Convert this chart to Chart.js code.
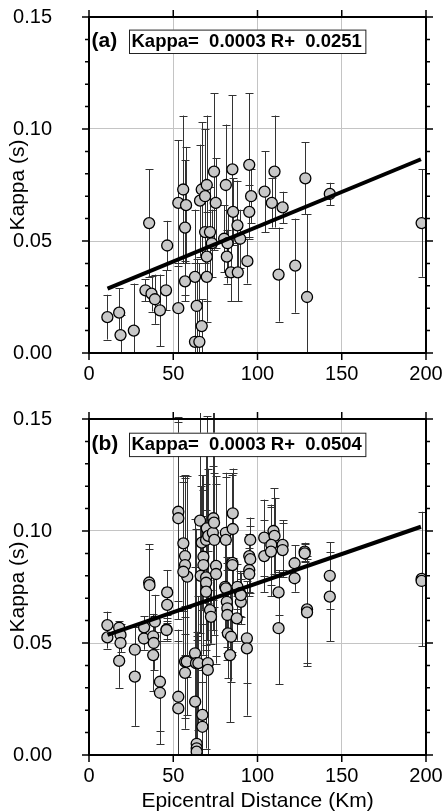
<!DOCTYPE html>
<html>
<head>
<meta charset="utf-8">
<script src="https://cdn.jsdelivr.net/npm/chart.js@4.4.0/dist/chart.umd.min.js"></script>
<style>
  html, body { margin: 0; padding: 0; background: #fff; }
  canvas { position: absolute; left: 0; }
  #chartA { top: 0; }
  #chartB { top: 400px; }
</style>
</head>
<body>
<canvas id="chartA" width="443" height="400"></canvas>
<canvas id="chartB" width="443" height="412"></canvas>
<script>
// Panel (a): kappa vs epicentral distance
const distA = [10.9, 17.9, 18.7, 26.6, 35.7, 33.5, 37.1, 39.1, 42.1, 46.4, 45.7, 53.0, 53.0, 55.9, 57.6, 57.0, 57.0, 62.9, 63.9, 66.9,
  62.9, 65.5, 65.9, 66.9, 69.9, 68.9, 74.2, 75.2, 68.9, 71.8, 69.9, 72.9, 69.9, 81.2, 85.1, 95.1, 96.2, 85.5, 95.1, 80.2,
  82.2, 81.8, 84.2, 88.3, 88.1, 89.7, 94.0, 104.2, 110.1, 108.5, 114.9, 112.5, 122.4, 129.4, 128.4, 142.9, 197.4];
const kappaA = [0.016, 0.018, 0.008, 0.010, 0.058, 0.028, 0.0265, 0.024, 0.019, 0.048, 0.028, 0.020, 0.067, 0.073, 0.066, 0.056, 0.032, 0.034, 0.021, 0.012,
  0.005, 0.005, 0.068, 0.073, 0.075, 0.070, 0.081, 0.067, 0.054, 0.054, 0.043, 0.049, 0.034, 0.075, 0.082, 0.084, 0.070, 0.063, 0.063, 0.051,
  0.049, 0.043, 0.036, 0.036, 0.057, 0.051, 0.041, 0.072, 0.081, 0.067, 0.065, 0.035, 0.039, 0.025, 0.078, 0.071, 0.058];
const errA = [0.010, 0.011, 0.009, 0.021, 0.024, 0.005, 0.008, 0.011, 0.016, 0.011, 0.009, 0.020, 0.028, 0.033, 0.026, 0.030, 0.009, 0.030, 0.021, 0.012,
  0.035, 0.035, 0.025, 0.030, 0.031, 0.030, 0.035, 0.020, 0.020, 0.020, 0.020, 0.015, 0.020, 0.027, 0.033, 0.032, 0.012, 0.015, 0.012, 0.015,
  0.015, 0.012, 0.013, 0.013, 0.020, 0.013, 0.010, 0.018, 0.025, 0.011, 0.007, 0.021, 0.021, 0.037, 0.016, 0.005, 0.024];
const fitXA = [11, 197];
const fitYA = [0.0287, 0.0865];

// Panel (b)
const distB = [10.9, 10.9, 17.9, 18.7, 17.9, 18.7, 27.2, 27.2, 32.7, 32.6, 35.7, 35.9, 38.1, 38.4, 38.1, 39.1, 42.1, 42.1, 46.0, 46.0,
  46.4, 46.4, 53.0, 53.0, 53.0, 53.0, 56.0, 57.0, 57.0, 58.3, 56.0, 57.0, 58.0, 57.0, 62.9, 63.5, 63.0, 63.9, 63.9, 63.9,
  64.9, 65.9, 66.9, 66.3, 67.9, 67.9, 67.3, 67.3, 69.9, 69.5, 69.5, 69.5, 69.5, 70.5, 70.5, 70.8, 71.8, 72.4, 73.5, 73.8,
  74.2, 74.4, 75.4, 75.4, 81.2, 81.2, 80.8, 81.2, 81.8, 82.1, 82.1, 82.4, 84.3, 83.7, 85.3, 85.3, 85.1, 85.1, 87.7, 88.1,
  89.7, 90.1, 90.1, 93.7, 93.7, 95.7, 95.1, 95.7, 95.1, 95.1, 104.0, 104.0, 109.5, 110.1, 108.2, 108.0, 114.9, 114.9, 112.5, 112.5,
  122.0, 122.0, 128.0, 128.0, 129.4, 129.4, 142.9, 142.9, 197.4, 197.4];
const kappaB = [0.058, 0.0525, 0.0568, 0.0536, 0.042, 0.050, 0.047, 0.035, 0.057, 0.052, 0.077, 0.0758, 0.053, 0.050, 0.0446, 0.0595, 0.0327, 0.0278, 0.056, 0.0558,
  0.0726, 0.067, 0.1086, 0.1057, 0.026, 0.0208, 0.0945, 0.0888, 0.0848, 0.0796, 0.0818, 0.0417, 0.0417, 0.0367, 0.0454, 0.041, 0.0238, 0.005, 0.003, 0.0015,
  0.041, 0.1046, 0.0948, 0.080, 0.0885, 0.0848, 0.0179, 0.0126, 0.1012, 0.096, 0.0793, 0.0769, 0.0729, 0.041, 0.038, 0.0978, 0.0647, 0.0617, 0.0992, 0.1057,
  0.1037, 0.096, 0.0844, 0.0808, 0.0992, 0.096, 0.0751, 0.0744, 0.0684, 0.0655, 0.0625, 0.0543, 0.0528, 0.0446, 0.1079, 0.1009, 0.0858, 0.0848, 0.061, 0.0751,
  0.0722, 0.0684, 0.0714, 0.0521, 0.0476, 0.096, 0.0888, 0.0874, 0.0826, 0.0808, 0.097, 0.0888, 0.100, 0.0978, 0.0938, 0.0908, 0.0938, 0.0915, 0.0726, 0.0566,
  0.0856, 0.0789, 0.0908, 0.090, 0.065, 0.0637, 0.080, 0.0707, 0.0786, 0.0777];
const errB = [0.006, 0.005, 0.003, 0.005, 0.012, 0.004, 0.010, 0.022, 0.005, 0.005, 0.017, 0.016, 0.010, 0.012, 0.016, 0.012, 0.022, 0.023, 0.005, 0.004,
  0.010, 0.008, 0.040, 0.045, 0.030, 0.030, 0.030, 0.035, 0.040, 0.045, 0.040, 0.025, 0.024, 0.025, 0.060, 0.060, 0.060, 0.050, 0.050, 0.050,
  0.030, 0.050, 0.030, 0.040, 0.030, 0.040, 0.020, 0.020, 0.050, 0.025, 0.030, 0.030, 0.070, 0.050, 0.040, 0.030, 0.015, 0.012, 0.030, 0.050,
  0.050, 0.030, 0.040, 0.040, 0.025, 0.030, 0.020, 0.020, 0.020, 0.020, 0.020, 0.020, 0.020, 0.030, 0.020, 0.025, 0.040, 0.040, 0.010, 0.010,
  0.010, 0.010, 0.010, 0.020, 0.030, 0.010, 0.010, 0.015, 0.010, 0.010, 0.017, 0.016, 0.019, 0.017, 0.018, 0.020, 0.011, 0.012, 0.010, 0.025,
  0.008, 0.006, 0.004, 0.004, 0.024, 0.024, 0.015, 0.020, 0.030, 0.001];
const fitXB = [11, 197];
const fitYB = [0.0536, 0.1019];

// Axes
const xTicks = [0, 50, 100, 150, 200];
const yTicks = [0, 0.05, 0.10, 0.15];
const yMinorTicks = [0.01, 0.02, 0.03, 0.04, 0.06, 0.07, 0.08, 0.09, 0.11, 0.12, 0.13, 0.14];

const FONT = '"Liberation Sans", Arial, sans-serif';
Chart.defaults.font.family = FONT;
Chart.defaults.color = '#000';

// error bars, drawn under the circles
const errorBars = {
  id: 'errorBars',
  beforeDatasetsDraw(chart) {
    const { ctx, chartArea: a, scales: { x, y } } = chart;
    const ds = chart.data.datasets[1];
    ctx.save();
    ctx.beginPath();
    ctx.rect(a.left, a.top - 6, a.width, a.height + 6);
    ctx.clip();
    ctx.strokeStyle = '#333';
    ctx.lineWidth = 1;
    ctx.beginPath();
    ds.data.forEach((p, i) => {
      const e = ds.err[i];
      const px = Math.round(x.getPixelForValue(p.x)) + 0.5;
      const y1 = y.getPixelForValue(p.y + e);
      const y2 = y.getPixelForValue(Math.max(0, p.y - e));
      ctx.moveTo(px, y1); ctx.lineTo(px, y2);
      ctx.moveTo(px - 4, Math.round(y1) + 0.5); ctx.lineTo(px + 4, Math.round(y1) + 0.5);
      if (p.y - e > 0) { ctx.moveTo(px - 4, Math.round(y2) + 0.5); ctx.lineTo(px + 4, Math.round(y2) + 0.5); }
    });
    ctx.stroke();
    ctx.restore();
  }
};

// frame, outward ticks on all sides, panel label + equation box
const frameTicks = {
  id: 'frameTicks',
  afterDraw(chart) {
    const { ctx, chartArea: a, scales: { x, y } } = chart;
    const opts = chart.options.plugins.frameTicks;
    ctx.save();
    ctx.strokeStyle = '#000';
    ctx.lineWidth = 1.5;
    ctx.beginPath();
    xTicks.forEach(v => {
      const px = x.getPixelForValue(v);
      ctx.moveTo(px, a.bottom); ctx.lineTo(px, a.bottom + 7);
      ctx.moveTo(px, a.top); ctx.lineTo(px, a.top - 7);
    });
    yTicks.forEach(v => {
      const py = y.getPixelForValue(v);
      ctx.moveTo(a.left, py); ctx.lineTo(a.left - 7, py);
      ctx.moveTo(a.right, py); ctx.lineTo(a.right + 7, py);
    });
    yMinorTicks.forEach(v => {
      const py = y.getPixelForValue(v);
      ctx.moveTo(a.left, py); ctx.lineTo(a.left - 4, py);
      ctx.moveTo(a.right, py); ctx.lineTo(a.right + 4, py);
    });
    ctx.stroke();
    ctx.lineWidth = 2;
    ctx.strokeRect(a.left, a.top, a.width, a.height);

    // label and equation
    ctx.fillStyle = '#000';
    ctx.textBaseline = 'middle';
    ctx.font = 'bold 21px ' + FONT;
    const cy = a.top + opts.boxTop + 11.7;
    ctx.fillText(opts.tag, a.left + 2.5, cy);
    ctx.font = 'bold 18.5px ' + FONT;
    const w = ctx.measureText(opts.text).width;
    const bx = a.left + 40;
    ctx.fillStyle = '#fff';
    ctx.fillRect(bx, a.top + opts.boxTop, w + 6, 23.4);
    ctx.lineWidth = 1;
    ctx.strokeStyle = '#222';
    ctx.strokeRect(bx + 0.5, a.top + opts.boxTop + 0.5, w + 6, 23.4);
    ctx.fillStyle = '#000';
    ctx.fillText(opts.text, bx + 2.5, cy + 0.5);
    ctx.restore();
  }
};

function makeChart(id, dist, kappa, err, fitX, fitY, tag, text, boxTop, padTop, xHeight, xTitle) {
  const points = dist.map((d, i) => ({ x: d, y: kappa[i] }));
  const fit = fitX.map((d, i) => ({ x: d, y: fitY[i] }));
  return new Chart(document.getElementById(id), {
    type: 'scatter',
    data: {
      datasets: [
        { type: 'line', data: fit, borderColor: '#000', borderWidth: 4, pointRadius: 0, fill: false, order: 0 },
        { data: points, err: err, pointRadius: 5.5, pointBackgroundColor: '#c8c8c8',
          pointBorderColor: '#000', pointBorderWidth: 1.3, order: 1 }
      ]
    },
    options: {
      responsive: false,
      animation: false,
      devicePixelRatio: 1,
      layout: { padding: { left: 0, right: 17, top: padTop, bottom: 0 } },
      plugins: {
        legend: { display: false },
        tooltip: { enabled: false },
        frameTicks: { tag: tag, text: text, boxTop: boxTop }
      },
      scales: {
        x: {
          type: 'linear', min: 0, max: 200,
          afterBuildTicks: s => { s.ticks = xTicks.map(v => ({ value: v })); },
          afterFit: s => { s.height = xHeight; s.paddingLeft = 0; s.paddingRight = 0; },
          ticks: { font: { size: 20 }, padding: 9, maxRotation: 0, autoSkip: false },
          grid: { color: '#c4c4c4', lineWidth: 1, drawTicks: false },
          border: { display: false },
          title: { display: xTitle, text: 'Epicentral Distance (Km)', font: { size: 21, lineHeight: 1 }, padding: 0 }
        },
        y: {
          type: 'linear', min: 0, max: 0.15,
          afterBuildTicks: s => { s.ticks = yTicks.map(v => ({ value: v })); },
          afterFit: s => { s.width = 89; s.paddingTop = 0; s.paddingBottom = 0; },
          ticks: { font: { size: 20 }, padding: 37, autoSkip: false, callback: v => v.toFixed(2) },
          grid: { color: '#c4c4c4', lineWidth: 1, drawTicks: false },
          border: { display: false },
          title: { display: true, text: 'Kappa (s)', font: { size: 21, lineHeight: 1 }, padding: { top: 7.5, bottom: 0 } }
        }
      }
    },
    plugins: [errorBars, frameTicks]
  });
}

makeChart('chartA', distA, kappaA, errA, fitXA, fitYA, '(a)', 'Kappa=  0.0003 R+  0.0251', 12.6, 17, 47, false);
makeChart('chartB', distB, kappaB, errB, fitXB, fitYB, '(b)', 'Kappa=  0.0003 R+  0.0504', 13.7, 19, 57, true);
</script>
</body>
</html>
